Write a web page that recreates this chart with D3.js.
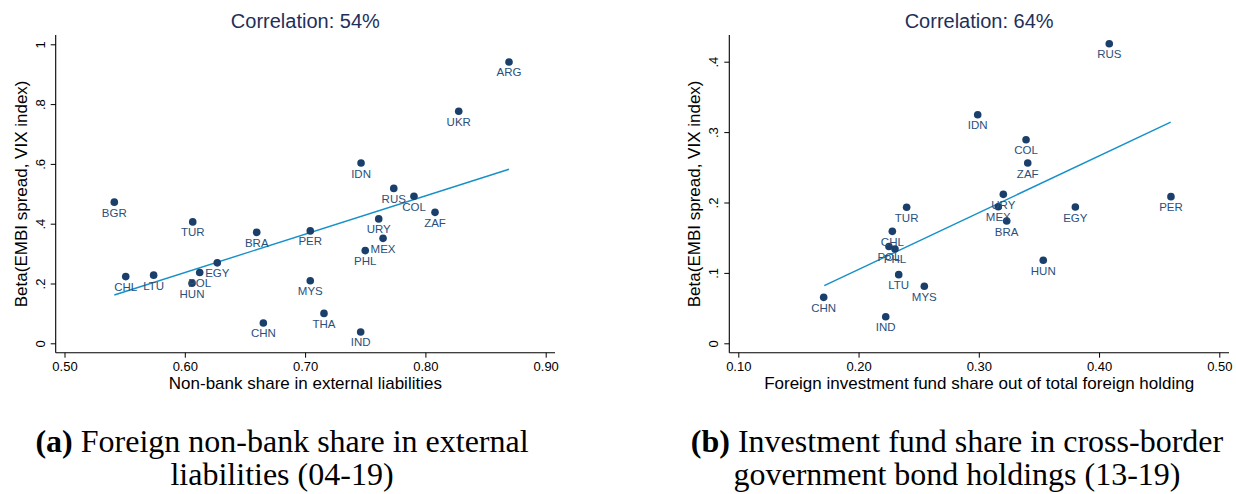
<!DOCTYPE html>
<html><head><meta charset="utf-8">
<script src="https://cdn.jsdelivr.net/npm/d3@7"></script>
<style>
body{margin:0;background:#fff;}
svg{display:block;}
</style></head>
<body>
<svg id="chart" width="1236" height="494"></svg>
<script>
// ---------- data: panel (a) ----------
const countriesA = ["ARG","UKR","IDN","RUS","COL","ZAF","URY","MEX","PHL","PER","MYS","THA","IND","BGR","TUR","BRA","EGY","POL","HUN","CHL","LTU","CHN"];
const shareA = [0.8695,0.8277,0.7465,0.7737,0.7905,0.8080,0.7612,0.7648,0.7500,0.7043,0.7043,0.7157,0.7462,0.5414,0.6066,0.6598,0.6270,0.6124,0.6060,0.5509,0.5741,0.6653];
const betaA  = [0.941,0.776,0.603,0.518,0.492,0.438,0.416,0.351,0.310,0.376,0.209,0.100,0.038,0.472,0.406,0.371,0.269,0.237,0.201,0.223,0.228,0.068];
const fitAx = [0.5414, 0.8695];
const fitAy = [0.1615, 0.582];
const xTicksA = [0.5,0.6,0.7,0.8,0.9];
const xTickLabelsA = ["0.50","0.60","0.70","0.80","0.90"];
const yTicksA = [0,0.2,0.4,0.6,0.8,1];
const yTickLabelsA = ["0",".2",".4",".6",".8","1"];
const titleA = "Correlation: 54%";
const xTitleA = "Non-bank share in external liabilities";
const captionA = [["(a)"," Foreign non-bank share in external"],["","liabilities (04-19)"]];

// ---------- data: panel (b) ----------
const countriesB = ["RUS","IDN","COL","ZAF","URY","MEX","BRA","EGY","PER","HUN","TUR","CHL","POL","PHL","LTU","MYS","CHN","IND"];
const shareB = [0.4085,0.2991,0.3393,0.3407,0.3204,0.3162,0.3232,0.3803,0.4598,0.3536,0.2400,0.2281,0.2253,0.2303,0.2334,0.2547,0.1710,0.2226];
const betaB  = [0.4256,0.3247,0.2892,0.2561,0.2116,0.1940,0.1737,0.1936,0.2083,0.1179,0.1932,0.1590,0.1375,0.1340,0.0975,0.0810,0.0653,0.0378];
const fitBx = [0.1715, 0.4596];
const fitBy = [0.0818, 0.3143];
const xTicksB = [0.1,0.2,0.3,0.4,0.5];
const xTickLabelsB = ["0.10","0.20","0.30","0.40","0.50"];
const yTicksB = [0,0.1,0.2,0.3,0.4];
const yTickLabelsB = ["0",".1",".2",".3",".4"];
const titleB = "Correlation: 64%";
const xTitleB = "Foreign investment fund share out of total foreign holding";
const captionB = [["(b)"," Investment fund share in cross-border"],["","government bond holdings (13-19)"]];

const yAxisTitle = "Beta(EMBI spread, VIX index)";

// ---------- drawing ----------
const svg = d3.select("#chart");
const SANS = "'Liberation Sans', Arial, Helvetica, sans-serif";
const SERIF = "'Liberation Serif', 'Times New Roman', serif";
const NAVY = "#1a3f6a";
const LABEL = "#2b4f7a";
const FIT = "#1590c8";

function panel(cfg){
  const g = svg.append("g");
  const x = d3.scaleLinear().domain(cfg.xDom).range(cfg.xRange);
  const y = d3.scaleLinear().domain(cfg.yDom).range(cfg.yRange);

  // spines
  g.append("line").attr("x1",cfg.spineX).attr("x2",cfg.spineX)
    .attr("y1",cfg.spineTop).attr("y2",cfg.spineBottom)
    .attr("stroke","#000").attr("stroke-width",1.1);
  g.append("line").attr("x1",cfg.spineX).attr("x2",cfg.spineRight)
    .attr("y1",cfg.spineBottom).attr("y2",cfg.spineBottom)
    .attr("stroke","#000").attr("stroke-width",1.1);

  // x axis
  const xa = g.append("g").attr("transform",`translate(0,${cfg.spineBottom})`)
    .call(d3.axisBottom(x).tickValues(cfg.xTicks).tickSize(5).tickPadding(4)
      .tickFormat((d,i)=>cfg.xTickLabels[i]));
  xa.select(".domain").remove();
  xa.selectAll("line").attr("stroke","#000").attr("stroke-width",1);
  xa.selectAll("text").attr("font-family",SANS).attr("font-size",13).attr("fill","#000");

  // y axis
  const ya = g.append("g").attr("transform",`translate(${cfg.spineX},0)`)
    .call(d3.axisLeft(y).tickValues(cfg.yTicks).tickSize(5).tickPadding(0)
      .tickFormat((d,i)=>cfg.yTickLabels[i]));
  ya.select(".domain").remove();
  ya.selectAll("line").attr("stroke","#000").attr("stroke-width",1);
  ya.selectAll("text")
    .attr("font-family",SANS).attr("font-size",13).attr("fill","#000")
    .attr("x",null).attr("dy",null)
    .attr("text-anchor","middle")
    .attr("transform","translate(-11,0) rotate(-90)");

  // axis titles
  g.append("text").attr("x",(cfg.spineX+cfg.spineRight)/2).attr("y",389)
    .attr("text-anchor","middle").attr("font-family",SANS).attr("font-size",17)
    .attr("fill","#000").text(cfg.xTitle);
  g.append("text")
    .attr("transform",`translate(${cfg.spineX-29},${(cfg.spineTop+cfg.spineBottom)/2}) rotate(-90)`)
    .attr("text-anchor","middle").attr("font-family",SANS).attr("font-size",17)
    .attr("fill","#000").text(yAxisTitle);

  // chart title
  g.append("text").attr("x",(cfg.spineX+cfg.spineRight)/2).attr("y",28)
    .attr("text-anchor","middle").attr("font-family",SANS).attr("font-size",20)
    .attr("fill","#1f2f5a").text(cfg.title);

  // fit line
  g.append("path")
    .datum(d3.zip(cfg.fitX,cfg.fitY))
    .attr("d",d3.line().x(d=>x(d[0])).y(d=>y(d[1])))
    .attr("fill","none").attr("stroke",FIT).attr("stroke-width",1.4);

  const pts = d3.zip(cfg.names,cfg.xs,cfg.ys);
  // dots
  g.selectAll("circle.pt").data(pts).join("circle").attr("class","pt")
    .attr("cx",d=>x(d[1])).attr("cy",d=>y(d[2])).attr("r",3.8).attr("fill",NAVY);
  // labels
  g.selectAll("text.lab").data(pts).join("text").attr("class","lab")
    .attr("x",d=>x(d[1])).attr("y",d=>y(d[2])+14.5)
    .attr("text-anchor","middle").attr("font-family",SANS).attr("font-size",11.5)
    .attr("fill",LABEL).text(d=>d[0]);

  // caption
  const cap = g.append("text").attr("font-family",SERIF).attr("font-size",32)
    .attr("fill","#000").attr("text-anchor","middle");
  cfg.caption.forEach((line,i)=>{
    const t = cap.append("tspan").attr("x",cfg.capX).attr("y",452+i*33);
    if(line[0]) t.append("tspan").attr("font-weight","bold").text(line[0]);
    t.append("tspan").text(line[1]);
  });
}

panel({
  xDom:[0.5,0.9], xRange:[64.5,545.7], yDom:[0,1], yRange:[343.3,44.3],
  spineX:55.7, spineRight:555, spineTop:35, spineBottom:352.7,
  xTicks:xTicksA, xTickLabels:xTickLabelsA, yTicks:yTicksA, yTickLabels:yTickLabelsA,
  title:titleA, xTitle:xTitleA, fitX:fitAx, fitY:fitAy,
  names:countriesA, xs:shareA, ys:betaA, caption:captionA, capX:282
});
panel({
  xDom:[0.1,0.5], xRange:[738.3,1219.3], yDom:[0,0.4], yRange:[343.3,61.7],
  spineX:729.3, spineRight:1229, spineTop:35, spineBottom:352.7,
  xTicks:xTicksB, xTickLabels:xTickLabelsB, yTicks:yTicksB, yTickLabels:yTickLabelsB,
  title:titleB, xTitle:xTitleB, fitX:fitBx, fitY:fitBy,
  names:countriesB, xs:shareB, ys:betaB, caption:captionB, capX:957
});
</script>
</body></html>
